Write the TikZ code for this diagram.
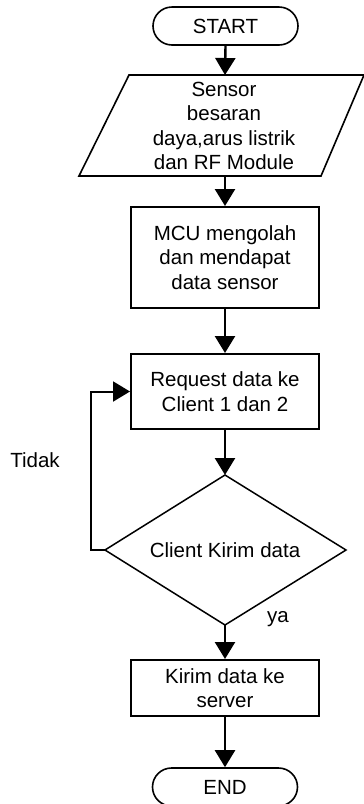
\documentclass[tikz,border=0pt]{standalone}
\usepackage{fontspec}
\setmainfont{Liberation Sans}
\usetikzlibrary{arrows.meta}
\begin{document}
\begin{tikzpicture}[x=1pt,y=-1pt,
  txt/.style={inner sep=0pt,align=center,font=\fontsize{20.5}{24.5}\selectfont},
  term/.style={txt,draw,line width=1.6pt,rounded corners=19pt,minimum width=145pt,minimum height=38pt},
  procbox/.style={txt,draw,line width=2pt,minimum width=188pt},
  shp/.style={line width=1.6pt,line join=miter},
  flow/.style={line width=2.4pt,-{Triangle[length=17pt,width=20pt]}}]
\useasboundingbox (0,0) rectangle (364,804);
% START
\node[term] (start) at (225.5,26) {START};
% parallelogram
\coordinate (ptop) at (225,75);
\coordinate (pbot) at (225,176);
\draw[shp] (129,75) -- (364,75) -- (321,176) -- (79,176) -- cycle;
\node[txt] (para) at (224,126) {Sensor\\besaran\\daya,arus listrik\\dan RF Module};
% MCU
\node[procbox,minimum height=101pt] (mcu) at (225,257.5) {MCU mengolah\\dan mendapat\\data sensor};
% request
\node[procbox,minimum height=75pt] (req) at (225,391.5) {Request data ke\\Client 1 dan 2};
% decision
\coordinate (dtop) at (225,475);
\coordinate (dleft) at (105,550);
\coordinate (dright) at (346,550);
\coordinate (dbot) at (225,625);
\draw[shp,line width=1.5pt] (dtop) -- (dright) -- (dbot) -- (dleft) -- cycle;
\node[txt] (dec) at (225,550) {Client Kirim data};
% kirim
\node[procbox,minimum height=56pt] (kirim) at (225,688) {Kirim data ke\\server};
% END
\node[term] (end) at (225,787) {END};
% labels
\node[txt] (tidak) at (35,460) {Tidak};
\node[txt] (ya) at (278,619) {ya};
% connectors
\draw[flow] (start.south) -- (ptop);
\draw[flow] (pbot) -- (mcu.north);
\draw[flow] (mcu.south) -- (req.north);
\draw[flow] (req.south) -- (dtop);
\draw[flow] (dbot) -- (kirim.north);
\draw[flow] (kirim.south) -- (end.north);
\coordinate (loopc) at (91,550);
\draw[flow,line width=2pt] (dleft) -- (loopc) |- (req.west);
\end{tikzpicture}
\end{document}
